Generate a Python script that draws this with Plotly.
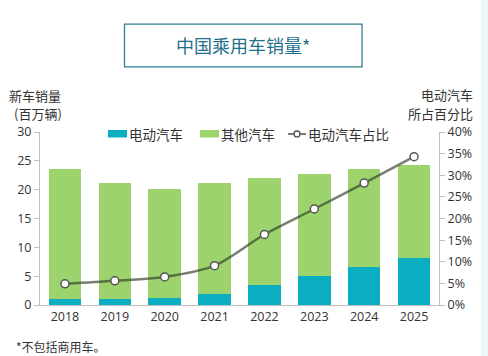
import plotly.graph_objects as go

years = ["2018", "2019", "2020", "2021", "2022", "2023", "2024", "2025"]
total_sales = [23.6, 21.2, 20.1, 21.2, 22.1, 22.8, 23.5, 24.2]
ev_sales = [1.1, 1.1, 1.3, 1.9, 3.5, 5.1, 6.6, 8.2]
other_sales = [round(t - e, 2) for t, e in zip(total_sales, ev_sales)]
ev_share = [4.9, 5.6, 6.5, 9.1, 16.3, 22.2, 28.2, 34.3]

left_ticks = [0, 5, 10, 15, 20, 25, 30]
right_ticks = [0, 5, 10, 15, 20, 25, 30, 35, 40]
right_tick_text = [f"{v}%" for v in right_ticks]
legend_names = ["电动汽车", "其他汽车", "电动汽车占比"]

FONT = "Open Sans, Noto Sans CJK SC, sans-serif"
CJK = "Noto Sans CJK SC, sans-serif"
TEAL = "#0BADC1"
GREEN = "#9DD36C"
AXIS = "#BFBFBF"
TXT = "#333333"
LINE = "rgba(50,60,40,0.66)"

W, H = 488, 356
L, R, T, B = 40, 49, 131.5, 50.5
pw, ph = W - L - R, H - T - B

def px(x):
    return (x - L) / pw

def py(y):
    return (H - B - y) / ph

fig = go.Figure()
fig.add_trace(go.Bar(x=years, y=ev_sales, name=legend_names[0], marker_color=TEAL,
                     marker_line_width=0, width=0.65))
fig.add_trace(go.Bar(x=years, y=other_sales, name=legend_names[1], marker_color=GREEN,
                     marker_line_width=0, width=0.65))
fig.add_trace(go.Scatter(x=years, y=ev_share, name=legend_names[2], yaxis="y2",
                         mode="lines+markers",
                         line=dict(color=LINE, width=2.5, shape="spline", smoothing=0.9),
                         marker=dict(size=8, color="white",
                                     line=dict(color="#555555", width=1.5))))

fig.update_layout(
    width=W, height=H,
    margin=dict(l=L, r=R, t=T, b=B, pad=0, autoexpand=False),
    paper_bgcolor="white", plot_bgcolor="white",
    barmode="stack",
    showlegend=False,
    font=dict(family=FONT, size=12, color=TXT),
    xaxis=dict(type="category", showgrid=False, showline=True, linecolor=AXIS, linewidth=1,
               ticks="", tickfont=dict(size=12.5, color=TXT), zeroline=False, automargin=False),
    yaxis=dict(range=[0, 30], tickvals=left_ticks, showgrid=False, zeroline=False,
               showline=True, linecolor=AXIS, linewidth=1, ticks="outside", ticklen=5,
               tickcolor=AXIS, tickfont=dict(size=12.5, color=TXT), automargin=False),
    yaxis2=dict(range=[0, 40], tickvals=right_ticks, ticktext=right_tick_text, overlaying="y",
                side="right", showgrid=False, zeroline=False, showline=True, linecolor=AXIS,
                linewidth=1, ticks="outside", ticklen=5, tickcolor=AXIS,
                tickfont=dict(size=12.5, color=TXT), automargin=False),
)

shapes = [
    dict(type="rect", xref="paper", yref="paper", x0=px(124.5), x1=px(362), y0=py(23), y1=py(66),
         line=dict(color="#2E7F91", width=1.3), fillcolor="rgba(0,0,0,0)"),
    dict(type="rect", xref="paper", yref="paper", x0=px(481), x1=px(490), y0=py(360), y1=py(-5),
         line=dict(width=0), fillcolor="#EEF5F8", layer="below"),
    # manual legend symbols
    dict(type="rect", xref="paper", yref="paper", x0=px(108), x1=px(127), y0=py(137), y1=py(129.5),
         line=dict(width=0), fillcolor=TEAL),
    dict(type="rect", xref="paper", yref="paper", x0=px(200), x1=px(219), y0=py(137), y1=py(129.5),
         line=dict(width=0), fillcolor=GREEN),
    dict(type="line", xref="paper", yref="paper", x0=px(288), x1=px(306), y0=py(133.5), y1=py(133.5),
         line=dict(color=LINE, width=2)),
    dict(type="circle", xref="paper", yref="paper", x0=px(294), x1=px(300), y0=py(136.5), y1=py(130.5),
         line=dict(color="#555555", width=1.3), fillcolor="white"),
]

def note(text, x, y, xanchor, size=13.5, color=TXT):
    return dict(text=text, xref="paper", yref="paper", x=px(x), y=py(y),
                xanchor=xanchor, yanchor="middle", showarrow=False, borderpad=0,
                font=dict(family=CJK, size=size, color=color))

annotations = [
    note("中国乘用车销量*", 243, 44, "center", size=18, color="#1F6F8B"),
    note("新车销量", 8, 94.5, "left", size=13),
    note("(百万辆)", 13, 112.5, "left", size=13),
    note("电动汽车", 474, 94, "right", size=13),
    note("所占百分比", 474, 112.5, "right", size=13),
    note("*不包括商用车。", 15, 347, "left", size=12),
]
legend_x = [128, 220, 307]
for name, x in zip(legend_names, legend_x):
    annotations.append(note(name, x, 133.5, "left"))
fig.update_layout(shapes=shapes, annotations=annotations)

fig.write_html("out.html", config={"displayModeBar": False},
               post_script="document.body.style.margin='0';")
